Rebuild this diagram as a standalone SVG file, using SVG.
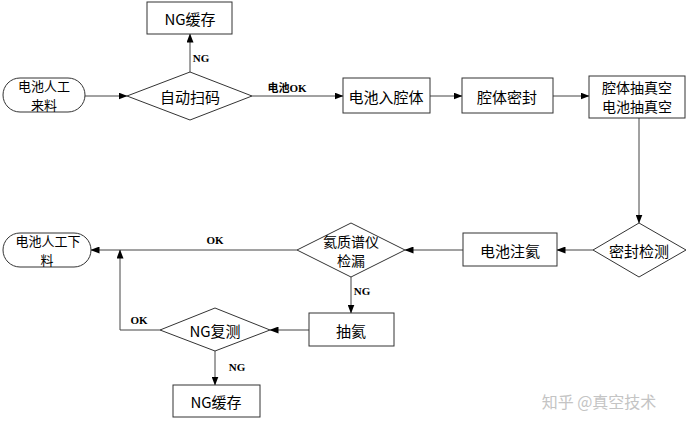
<svg xmlns="http://www.w3.org/2000/svg" width="690" height="430" viewBox="0 0 690 430">
<defs>
<marker id="ah" markerWidth="9" markerHeight="7" refX="8.5" refY="3.5" orient="auto" markerUnits="userSpaceOnUse">
<path d="M0,0 L9,3.5 L0,7 Z" fill="#000"/>
</marker>
<style>
.n{fill:#fff;stroke:#333;stroke-width:1}
.t{font-family:"Noto Sans CJK SC","Noto Sans",sans-serif;font-size:15px;fill:#000;text-anchor:middle;dominant-baseline:central}
.s{font-size:14px}
.x{font-size:13px}
.l{font-family:"Liberation Serif","Noto Sans CJK SC",serif;font-size:11px;font-weight:bold;fill:#000;text-anchor:middle;dominant-baseline:central}
.c{fill:none;stroke:#444;stroke-width:1}
.a{marker-end:url(#ah)}
</style>
</defs>
<rect width="690" height="430" fill="#fff"/>
<g id="connectors">
<line class="c a" x1="190" y1="72" x2="190" y2="34"/>
<line class="c a" x1="85" y1="96" x2="127" y2="96"/>
<line class="c a" x1="252" y1="96" x2="343" y2="96"/>
<line class="c a" x1="430" y1="96" x2="462" y2="96"/>
<line class="c a" x1="553" y1="96" x2="589" y2="96"/>
<line class="c a" x1="639" y1="118" x2="639" y2="223"/>
<line class="c a" x1="593" y1="250" x2="557" y2="250"/>
<line class="c a" x1="463" y1="250" x2="405" y2="250"/>
<line class="c a" x1="297" y1="250" x2="91" y2="250"/>
<line class="c a" x1="351" y1="277" x2="351" y2="313"/>
<line class="c a" x1="309" y1="330" x2="270" y2="330"/>
<polyline class="c a" points="160,330 120,330 120,250"/>
<line class="c a" x1="215" y1="351" x2="215" y2="385"/>
<text class="l" x="201" y="58">NG</text>
<text class="l" x="287" y="88">电池OK</text>
<text class="l" x="215" y="240">OK</text>
<text class="l" x="362" y="291">NG</text>
<text class="l" x="139" y="320">OK</text>
<text class="l" x="237" y="367">NG</text>
</g>
<g id="ng-cache-top">
<rect class="n" x="147" y="2" width="85" height="32"/>
<text class="t" x="190" y="18">NG缓存</text>
</g>
<g id="start">
<rect class="n" x="3" y="78" width="82" height="34" rx="17" ry="17"/>
<text class="t x" x="44" y="85.5">电池人工</text>
<text class="t x" x="44" y="104.5">来料</text>
</g>
<g id="scan">
<polygon class="n" points="190,72 252,96 190,120 127,96"/>
<text class="t" x="190" y="96">自动扫码</text>
</g>
<g id="enter">
<rect class="n" x="343" y="78" width="87" height="35"/>
<text class="t" x="386" y="96">电池入腔体</text>
</g>
<g id="seal">
<rect class="n" x="462" y="78" width="91" height="35"/>
<text class="t" x="507" y="96">腔体密封</text>
</g>
<g id="vacuum">
<rect class="n" x="589" y="76" width="96" height="42"/>
<text class="t s" x="637" y="87">腔体抽真空</text>
<text class="t s" x="637" y="106">电池抽真空</text>
</g>
<g id="seal-check">
<polygon class="n" points="639,223 686,250 639,277 593,250"/>
<text class="t" x="639" y="250">密封检测</text>
</g>
<g id="inject">
<rect class="n" x="463" y="233" width="94" height="33"/>
<text class="t" x="510" y="250">电池注氦</text>
</g>
<g id="leak-check">
<polygon class="n" points="351,223 405,250 351,277 297,250"/>
<text class="t s" x="351" y="241">氦质谱仪</text>
<text class="t s" x="351" y="260">检漏</text>
</g>
<g id="end">
<rect class="n" x="3" y="233" width="88" height="34" rx="17" ry="17"/>
<text class="t x" x="48" y="240.5">电池人工下</text>
<text class="t x" x="47" y="259.5">料</text>
</g>
<g id="pump">
<rect class="n" x="309" y="313" width="85" height="33"/>
<text class="t" x="351" y="330">抽氦</text>
</g>
<g id="retest">
<polygon class="n" points="215,308 270,330 215,351 160,330"/>
<text class="t" x="215" y="330">NG复测</text>
</g>
<g id="ng-cache-bottom">
<rect class="n" x="173" y="385" width="87" height="32"/>
<text class="t" x="216" y="401">NG缓存</text>
</g>
<text x="599" y="401" font-family="Noto Sans CJK SC,sans-serif" font-size="16" fill="#c4c4c4" text-anchor="middle" dominant-baseline="central">知乎 @真空技术</text>
</svg>
